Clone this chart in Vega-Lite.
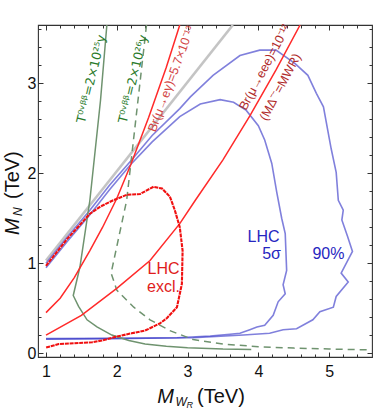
{
  "$schema": "https://vega.github.io/schema/vega-lite/v6.json",
  "width": 334,
  "height": 332,
  "autosize": "none",
  "padding": {"left": 38, "top": 25, "right": 2, "bottom": 53},
  "background": "white",
  "config": {
    "view": {"stroke": "#333333", "strokeWidth": 1.1},
    "axis": {"grid": false, "domain": false, "title": null, "tickColor": "#333333", "tickWidth": 1, "labelFont": "Liberation Sans", "labelFontSize": 16, "labelColor": "#111111"}
  },
  "datasets": {
    "one": [{}],
    "curves": [
      {"s": "gray", "x": 1.0, "y": 1.03}, {"s": "gray", "x": 3.64, "y": 3.65},

      {"s": "b5", "x": 1.0, "y": 0.95}, {"s": "b5", "x": 1.3, "y": 1.24}, {"s": "b5", "x": 1.62, "y": 1.54}, {"s": "b5", "x": 1.9, "y": 1.82}, {"s": "b5", "x": 2.2, "y": 2.1}, {"s": "b5", "x": 2.5, "y": 2.35}, {"s": "b5", "x": 2.89, "y": 2.63}, {"s": "b5", "x": 3.18, "y": 2.77}, {"s": "b5", "x": 3.46, "y": 2.82}, {"s": "b5", "x": 3.65, "y": 2.79}, {"s": "b5", "x": 3.83, "y": 2.7}, {"s": "b5", "x": 4.0, "y": 2.53}, {"s": "b5", "x": 4.09, "y": 2.37}, {"s": "b5", "x": 4.19, "y": 2.11}, {"s": "b5", "x": 4.26, "y": 1.79}, {"s": "b5", "x": 4.33, "y": 1.5}, {"s": "b5", "x": 4.38, "y": 1.33}, {"s": "b5", "x": 4.4, "y": 0.92}, {"s": "b5", "x": 4.35, "y": 0.76}, {"s": "b5", "x": 4.38, "y": 0.66}, {"s": "b5", "x": 4.28, "y": 0.57}, {"s": "b5", "x": 4.21, "y": 0.42}, {"s": "b5", "x": 4.09, "y": 0.31}, {"s": "b5", "x": 3.98, "y": 0.29}, {"s": "b5", "x": 3.88, "y": 0.26}, {"s": "b5", "x": 3.74, "y": 0.22}, {"s": "b5", "x": 3.6, "y": 0.21}, {"s": "b5", "x": 3.32, "y": 0.19}, {"s": "b5", "x": 2.85, "y": 0.17}, {"s": "b5", "x": 2.0, "y": 0.16}, {"s": "b5", "x": 1.0, "y": 0.155},

      {"s": "b90", "x": 1.0, "y": 1.0}, {"s": "b90", "x": 1.3, "y": 1.29}, {"s": "b90", "x": 1.62, "y": 1.59}, {"s": "b90", "x": 1.9, "y": 1.87}, {"s": "b90", "x": 2.2, "y": 2.14}, {"s": "b90", "x": 2.5, "y": 2.42}, {"s": "b90", "x": 2.89, "y": 2.72}, {"s": "b90", "x": 3.04, "y": 2.85}, {"s": "b90", "x": 3.36, "y": 3.09}, {"s": "b90", "x": 3.74, "y": 3.31}, {"s": "b90", "x": 4.02, "y": 3.37}, {"s": "b90", "x": 4.25, "y": 3.37}, {"s": "b90", "x": 4.52, "y": 3.22}, {"s": "b90", "x": 4.7, "y": 3.09}, {"s": "b90", "x": 4.82, "y": 2.89}, {"s": "b90", "x": 4.92, "y": 2.74}, {"s": "b90", "x": 5.03, "y": 2.27}, {"s": "b90", "x": 5.1, "y": 2.01}, {"s": "b90", "x": 5.13, "y": 1.7}, {"s": "b90", "x": 5.2, "y": 1.59}, {"s": "b90", "x": 5.18, "y": 1.48}, {"s": "b90", "x": 5.26, "y": 1.3}, {"s": "b90", "x": 5.33, "y": 1.13}, {"s": "b90", "x": 5.17, "y": 0.89}, {"s": "b90", "x": 5.27, "y": 0.79}, {"s": "b90", "x": 5.1, "y": 0.63}, {"s": "b90", "x": 5.06, "y": 0.51}, {"s": "b90", "x": 4.87, "y": 0.46}, {"s": "b90", "x": 4.77, "y": 0.37}, {"s": "b90", "x": 4.54, "y": 0.27}, {"s": "b90", "x": 4.35, "y": 0.26}, {"s": "b90", "x": 4.16, "y": 0.22}, {"s": "b90", "x": 3.79, "y": 0.2}, {"s": "b90", "x": 3.08, "y": 0.17}, {"s": "b90", "x": 2.0, "y": 0.165}, {"s": "b90", "x": 1.0, "y": 0.16},

      {"s": "t25", "x": 1.86, "y": 3.65}, {"s": "t25", "x": 1.77, "y": 2.81}, {"s": "t25", "x": 1.62, "y": 1.7}, {"s": "t25", "x": 1.48, "y": 0.96}, {"s": "t25", "x": 1.385, "y": 0.64}, {"s": "t25", "x": 1.46, "y": 0.52}, {"s": "t25", "x": 1.58, "y": 0.37}, {"s": "t25", "x": 1.72, "y": 0.29}, {"s": "t25", "x": 1.93, "y": 0.2}, {"s": "t25", "x": 2.17, "y": 0.14}, {"s": "t25", "x": 2.4, "y": 0.1}, {"s": "t25", "x": 2.7, "y": 0.075}, {"s": "t25", "x": 3.0, "y": 0.06}, {"s": "t25", "x": 3.5, "y": 0.045}, {"s": "t25", "x": 3.9, "y": 0.04},

      {"s": "t26", "x": 2.42, "y": 3.65}, {"s": "t26", "x": 2.14, "y": 1.7}, {"s": "t26", "x": 1.92, "y": 0.89}, {"s": "t26", "x": 2.0, "y": 0.7}, {"s": "t26", "x": 2.24, "y": 0.51}, {"s": "t26", "x": 2.47, "y": 0.37}, {"s": "t26", "x": 2.75, "y": 0.25}, {"s": "t26", "x": 3.08, "y": 0.15}, {"s": "t26", "x": 3.5, "y": 0.1}, {"s": "t26", "x": 4.0, "y": 0.07}, {"s": "t26", "x": 4.5, "y": 0.055}, {"s": "t26", "x": 5.0, "y": 0.045}, {"s": "t26", "x": 5.6, "y": 0.035},

      {"s": "eg", "x": 1.0, "y": 0.45}, {"s": "eg", "x": 1.2, "y": 0.61}, {"s": "eg", "x": 1.4, "y": 0.84}, {"s": "eg", "x": 1.62, "y": 1.14}, {"s": "eg", "x": 1.8, "y": 1.4}, {"s": "eg", "x": 2.0, "y": 1.72}, {"s": "eg", "x": 2.2, "y": 2.1}, {"s": "eg", "x": 2.45, "y": 2.62}, {"s": "eg", "x": 2.7, "y": 3.18}, {"s": "eg", "x": 2.89, "y": 3.65},

      {"s": "eee", "x": 1.0, "y": 0.2}, {"s": "eee", "x": 1.5, "y": 0.42}, {"s": "eee", "x": 2.0, "y": 0.72}, {"s": "eee", "x": 2.47, "y": 1.03}, {"s": "eee", "x": 2.89, "y": 1.44}, {"s": "eee", "x": 3.11, "y": 1.7}, {"s": "eee", "x": 3.5, "y": 2.15}, {"s": "eee", "x": 3.88, "y": 2.64}, {"s": "eee", "x": 4.25, "y": 3.15}, {"s": "eee", "x": 4.59, "y": 3.65},

      {"s": "excl", "x": 1.0, "y": 0.97}, {"s": "excl", "x": 1.3, "y": 1.27}, {"s": "excl", "x": 1.62, "y": 1.55}, {"s": "excl", "x": 1.77, "y": 1.63}, {"s": "excl", "x": 1.95, "y": 1.7}, {"s": "excl", "x": 2.14, "y": 1.76}, {"s": "excl", "x": 2.33, "y": 1.77}, {"s": "excl", "x": 2.52, "y": 1.85}, {"s": "excl", "x": 2.64, "y": 1.83}, {"s": "excl", "x": 2.75, "y": 1.74}, {"s": "excl", "x": 2.82, "y": 1.59}, {"s": "excl", "x": 2.89, "y": 1.4}, {"s": "excl", "x": 2.93, "y": 1.14}, {"s": "excl", "x": 2.92, "y": 0.77}, {"s": "excl", "x": 2.85, "y": 0.51}, {"s": "excl", "x": 2.71, "y": 0.39}, {"s": "excl", "x": 2.61, "y": 0.33}, {"s": "excl", "x": 2.4, "y": 0.25}, {"s": "excl", "x": 2.21, "y": 0.22}, {"s": "excl", "x": 1.98, "y": 0.18}, {"s": "excl", "x": 1.79, "y": 0.14}, {"s": "excl", "x": 1.65, "y": 0.12}, {"s": "excl", "x": 1.18, "y": 0.1}, {"s": "excl", "x": 1.0, "y": 0.06}
    ]
  },
  "resolve": {"axis": {"x": "independent", "y": "independent"}},
  "layer": [
    {
      "data": {"name": "curves"},
      "transform": [{"filter": "datum.s == 'gray'"}],
      "mark": {"type": "line", "color": "#c4c4c4", "strokeWidth": 2.6, "clip": true},
      "encoding": {
        "x": {"field": "x", "type": "quantitative", "scale": {"domain": [0.887, 5.606], "nice": false, "zero": false},
              "axis": {"orient": "bottom", "values": [1, 2, 3, 4, 5], "tickSize": -5, "labelPadding": 11, "labelFontSize": 16, "format": "d"}},
        "y": {"field": "y", "type": "quantitative", "scale": {"domain": [-0.044, 3.65], "nice": false, "zero": false},
              "axis": {"orient": "left", "values": [0, 1, 2, 3], "tickSize": -5, "labelPadding": 7, "labelFontSize": 16, "format": "d"}},
        "order": {"value": null}
      }
    },
    {
      "data": {"name": "curves"},
      "transform": [{"filter": "datum.s == 'b5'"}],
      "mark": {"type": "line", "color": "#2c2cc4", "opacity": 0.6, "strokeWidth": 1.6, "clip": true},
      "encoding": {
        "x": {"field": "x", "type": "quantitative", "axis": {"orient": "bottom", "values": [1.2, 1.4, 1.6, 1.8, 2.2, 2.4, 2.6, 2.8, 3.2, 3.4, 3.6, 3.8, 4.2, 4.4, 4.6, 4.8, 5.2, 5.4], "tickSize": -3, "labels": false}},
        "y": {"field": "y", "type": "quantitative", "axis": {"orient": "left", "values": [0.2, 0.4, 0.6, 0.8, 1.2, 1.4, 1.6, 1.8, 2.2, 2.4, 2.6, 2.8, 3.2, 3.4, 3.6], "tickSize": -3, "labels": false}},
        "order": {"value": null}
      }
    },
    {
      "data": {"name": "curves"},
      "transform": [{"filter": "datum.s == 'b90'"}],
      "mark": {"type": "line", "color": "#2c2cc4", "opacity": 0.6, "strokeWidth": 1.6, "clip": true},
      "encoding": {
        "x": {"field": "x", "type": "quantitative", "axis": {"orient": "top", "values": [1, 2, 3, 4, 5], "tickSize": -5, "labels": false}},
        "y": {"field": "y", "type": "quantitative", "axis": {"orient": "right", "values": [0, 1, 2, 3], "tickSize": -5, "labels": false}},
        "order": {"value": null}
      }
    },
    {
      "data": {"name": "curves"},
      "transform": [{"filter": "datum.s == 't25'"}],
      "mark": {"type": "line", "color": "#6f936f", "strokeWidth": 1.5, "clip": true},
      "encoding": {
        "x": {"field": "x", "type": "quantitative", "axis": {"orient": "top", "values": [1.2, 1.4, 1.6, 1.8, 2.2, 2.4, 2.6, 2.8, 3.2, 3.4, 3.6, 3.8, 4.2, 4.4, 4.6, 4.8, 5.2, 5.4], "tickSize": -3, "labels": false}},
        "y": {"field": "y", "type": "quantitative", "axis": {"orient": "right", "values": [0.2, 0.4, 0.6, 0.8, 1.2, 1.4, 1.6, 1.8, 2.2, 2.4, 2.6, 2.8, 3.2, 3.4, 3.6], "tickSize": -3, "labels": false}},
        "order": {"value": null}
      }
    },
    {
      "data": {"name": "curves"},
      "transform": [{"filter": "datum.s == 't26'"}],
      "mark": {"type": "line", "color": "#6f936f", "strokeWidth": 1.5, "strokeDash": [7, 5], "clip": true},
      "encoding": {
        "x": {"field": "x", "type": "quantitative", "axis": null},
        "y": {"field": "y", "type": "quantitative", "axis": null},
        "order": {"value": null}
      }
    },
    {
      "data": {"name": "curves"},
      "transform": [{"filter": "datum.s == 'eg' || datum.s == 'eee'"}],
      "mark": {"type": "line", "color": "#ff2a2a", "strokeWidth": 1.5, "clip": true},
      "encoding": {
        "x": {"field": "x", "type": "quantitative", "axis": null},
        "y": {"field": "y", "type": "quantitative", "axis": null},
        "detail": {"field": "s"},
        "order": {"value": null}
      }
    },
    {
      "data": {"name": "curves"},
      "transform": [{"filter": "datum.s == 'excl'"}],
      "mark": {"type": "line", "color": "#f01010", "strokeWidth": 2.1, "strokeDash": [4, 0.8], "clip": true},
      "encoding": {
        "x": {"field": "x", "type": "quantitative", "axis": null},
        "y": {"field": "y", "type": "quantitative", "axis": null},
        "order": {"value": null}
      }
    },
    {
      "data": {"name": "one"},
      "mark": {"type": "text", "text": "T⁰ᵛᵝᵝ=2×10²⁵y", "angle": 283.5, "font": "DejaVu Sans", "fontSize": 12.5, "fill": "#2a7a2a", "align": "center", "baseline": "middle"},
      "encoding": {"x": {"datum": 1.64, "type": "quantitative", "axis": null}, "y": {"datum": 3.05, "type": "quantitative", "axis": null}}
    },
    {
      "data": {"name": "one"},
      "mark": {"type": "text", "text": "T⁰ᵛᵝᵝ=2×10²⁶y", "angle": 283.5, "font": "DejaVu Sans", "fontSize": 12.5, "fill": "#2a7a2a", "align": "center", "baseline": "middle"},
      "encoding": {"x": {"datum": 2.23, "type": "quantitative", "axis": null}, "y": {"datum": 3.05, "type": "quantitative", "axis": null}}
    },
    {
      "data": {"name": "one"},
      "mark": {"type": "text", "text": "Br(μ→eγ)=5.7×10⁻¹³", "angle": 290.5, "font": "Liberation Sans", "fontSize": 12.5, "fill": "#d24545", "align": "center", "baseline": "middle"},
      "encoding": {"x": {"datum": 2.77, "type": "quantitative", "axis": null}, "y": {"datum": 3.05, "type": "quantitative", "axis": null}}
    },
    {
      "data": {"name": "one"},
      "mark": {"type": "text", "text": "Br(μ→eee)=10⁻¹²", "angle": 298, "font": "Liberation Sans", "fontSize": 12.5, "fill": "#b02a2a", "align": "center", "baseline": "middle"},
      "encoding": {"x": {"datum": 4.09, "type": "quantitative", "axis": null}, "y": {"datum": 3.18, "type": "quantitative", "axis": null}}
    },
    {
      "data": {"name": "one"},
      "mark": {"type": "text", "text": "(MΔ⁻⁻=MWR)", "angle": 298, "font": "Liberation Sans", "fontSize": 12.5, "fill": "#b02a2a", "align": "center", "baseline": "middle"},
      "encoding": {"x": {"datum": 4.31, "type": "quantitative", "axis": null}, "y": {"datum": 2.96, "type": "quantitative", "axis": null}}
    },
    {
      "data": {"name": "one"},
      "mark": {"type": "text", "text": "LHC", "font": "Liberation Sans", "fontSize": 16, "fill": "#e01c1c", "align": "center", "baseline": "middle"},
      "encoding": {"x": {"datum": 2.66, "type": "quantitative", "axis": null}, "y": {"datum": 0.94, "type": "quantitative", "axis": null}}
    },
    {
      "data": {"name": "one"},
      "mark": {"type": "text", "text": "excl.", "font": "Liberation Sans", "fontSize": 16, "fill": "#e01c1c", "align": "center", "baseline": "middle"},
      "encoding": {"x": {"datum": 2.66, "type": "quantitative", "axis": null}, "y": {"datum": 0.74, "type": "quantitative", "axis": null}}
    },
    {
      "data": {"name": "one"},
      "mark": {"type": "text", "text": "LHC", "font": "Liberation Sans", "fontSize": 16, "fill": "#2626bf", "align": "right", "baseline": "middle"},
      "encoding": {"x": {"datum": 4.3, "type": "quantitative", "axis": null}, "y": {"datum": 1.29, "type": "quantitative", "axis": null}}
    },
    {
      "data": {"name": "one"},
      "mark": {"type": "text", "text": "5σ", "font": "Liberation Sans", "fontSize": 16, "fill": "#2626bf", "align": "right", "baseline": "middle"},
      "encoding": {"x": {"datum": 4.32, "type": "quantitative", "axis": null}, "y": {"datum": 1.1, "type": "quantitative", "axis": null}}
    },
    {
      "data": {"name": "one"},
      "mark": {"type": "text", "text": "90%", "font": "Liberation Sans", "fontSize": 16, "fill": "#2626bf", "align": "center", "baseline": "middle"},
      "encoding": {"x": {"datum": 4.99, "type": "quantitative", "axis": null}, "y": {"datum": 1.1, "type": "quantitative", "axis": null}}
    },
    {
      "data": {"name": "one"},
      "mark": {"type": "text", "text": "M", "font": "Liberation Sans", "fontStyle": "italic", "fontSize": 20, "fill": "#111111", "align": "left", "baseline": "alphabetic"},
      "encoding": {"x": {"datum": 2.571, "type": "quantitative", "axis": null}, "y": {"datum": -0.556, "type": "quantitative", "axis": null}}
    },
    {
      "data": {"name": "one"},
      "mark": {"type": "text", "text": "W", "font": "Liberation Sans", "fontStyle": "italic", "fontSize": 12, "fill": "#111111", "align": "left", "baseline": "alphabetic"},
      "encoding": {"x": {"datum": 2.83, "type": "quantitative", "axis": null}, "y": {"datum": -0.589, "type": "quantitative", "axis": null}}
    },
    {
      "data": {"name": "one"},
      "mark": {"type": "text", "text": "R", "font": "Liberation Sans", "fontStyle": "italic", "fontSize": 9, "fill": "#111111", "align": "left", "baseline": "alphabetic"},
      "encoding": {"x": {"datum": 2.985, "type": "quantitative", "axis": null}, "y": {"datum": -0.612, "type": "quantitative", "axis": null}}
    },
    {
      "data": {"name": "one"},
      "mark": {"type": "text", "text": "(TeV)", "font": "Liberation Sans", "fontSize": 20, "fill": "#111111", "align": "left", "baseline": "alphabetic"},
      "encoding": {"x": {"datum": 3.134, "type": "quantitative", "axis": null}, "y": {"datum": -0.556, "type": "quantitative", "axis": null}}
    },
    {
      "data": {"name": "one"},
      "mark": {"type": "text", "text": "M", "font": "Liberation Sans", "fontStyle": "italic", "fontSize": 20, "fill": "#111111", "align": "left", "baseline": "alphabetic", "angle": 270},
      "encoding": {"x": {"datum": 0.619, "type": "quantitative", "axis": null}, "y": {"datum": 1.313, "type": "quantitative", "axis": null}}
    },
    {
      "data": {"name": "one"},
      "mark": {"type": "text", "text": "N", "font": "Liberation Sans", "fontStyle": "italic", "fontSize": 12, "fill": "#111111", "align": "left", "baseline": "alphabetic", "angle": 270},
      "encoding": {"x": {"datum": 0.663, "type": "quantitative", "axis": null}, "y": {"datum": 1.525, "type": "quantitative", "axis": null}}
    },
    {
      "data": {"name": "one"},
      "mark": {"type": "text", "text": "(TeV)", "font": "Liberation Sans", "fontSize": 20, "fill": "#111111", "align": "left", "baseline": "alphabetic", "angle": 270},
      "encoding": {"x": {"datum": 0.619, "type": "quantitative", "axis": null}, "y": {"datum": 1.714, "type": "quantitative", "axis": null}}
    }
  ]
}
